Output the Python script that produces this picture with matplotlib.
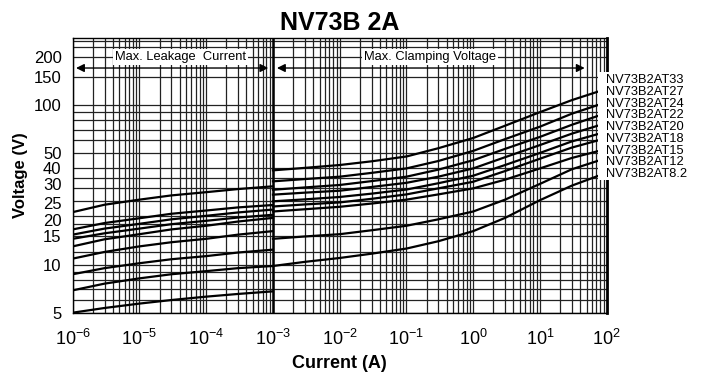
import numpy as np
import matplotlib
matplotlib.use("Agg")
import matplotlib.pyplot as plt
import matplotlib.transforms as mtransforms
from matplotlib.patches import Rectangle

plt.rcParams['font.family'] = ['Liberation Sans', 'DejaVu Sans']
plt.rcParams['mathtext.fontset'] = 'custom'
plt.rcParams['mathtext.rm'] = 'Liberation Sans'
plt.rcParams['mathtext.default'] = 'regular'

# device names, top curve first
devices = ['NV73B2AT33', 'NV73B2AT27', 'NV73B2AT24', 'NV73B2AT22', 'NV73B2AT20',
           'NV73B2AT18', 'NV73B2AT15', 'NV73B2AT12', 'NV73B2AT8.2']

# leakage region (A)
leak_i = [1e-6, 3e-6, 1e-5, 3e-5, 1e-4, 3e-4, 1e-3]
leak_v = [
    [21.3, 23.7, 25.5, 27.1, 28.4, 29.7, 30.9],
    [16.6, 18.2, 19.5, 20.8, 21.8, 22.8, 23.6],
    [15.4, 16.8, 18.0, 19.2, 20.2, 21.2, 22.1],
    [14.5, 15.7, 16.8, 17.9, 18.8, 19.7, 20.5],
    [13.0, 14.4, 15.5, 16.6, 17.5, 18.6, 19.6],
    [10.9, 12.0, 13.0, 13.8, 14.5, 15.4, 16.2],
    [8.7, 9.5, 10.2, 10.8, 11.3, 11.9, 12.4],
    [6.9, 7.6, 8.2, 8.7, 9.1, 9.5, 9.8],
    [5.0, 5.35, 5.7, 6.0, 6.3, 6.55, 6.8],
]

# clamping region (A)
clamp_i = [1e-3, 3e-3, 1e-2, 3e-2, 1e-1, 3e-1, 1e0, 3e0, 1e1, 3e1, 1e2]
clamp_v = [
    [38.9, 40.3, 42.0, 44.3, 47.5, 53.5, 62.0, 74.0, 90.0, 107.0, 126.0],
    [33.2, 34.3, 35.5, 37.5, 40.0, 44.5, 51.5, 61.0, 73.0, 88.0, 104.0],
    [29.4, 30.4, 31.5, 33.3, 35.5, 39.3, 45.0, 53.0, 63.0, 75.0, 89.0],
    [27.4, 28.2, 29.0, 30.6, 32.5, 35.5, 40.0, 47.0, 56.0, 66.0, 77.0],
    [24.9, 25.6, 26.5, 27.8, 29.5, 32.3, 36.0, 42.0, 50.0, 59.0, 68.0],
    [23.1, 23.8, 24.5, 25.8, 27.5, 30.0, 33.0, 38.5, 46.0, 54.0, 62.0],
    [21.5, 22.2, 23.0, 24.1, 25.5, 27.5, 30.0, 34.0, 40.0, 46.5, 53.0],
    [14.5, 15.0, 15.5, 16.4, 17.5, 19.2, 21.5, 25.5, 32.0, 39.5, 46.5],
    [9.8, 10.4, 11.0, 11.7, 12.6, 14.0, 16.2, 19.6, 25.3, 31.2, 37.6],
]

y_ticks = [5, 10, 15, 20, 25, 30, 40, 50, 100, 150, 200]
y_grid = [5, 6, 7, 8, 9, 10, 12, 15, 18, 20, 25, 30, 35, 40, 50, 60, 70, 80, 90,
          100, 150, 200, 230, 250]
x_ticks = [1e-6, 1e-5, 1e-4, 1e-3, 1e-2, 1e-1, 1e0, 1e1, 1e2]
x_labels = ['$10^{-6}$', '$10^{-5}$', '$10^{-4}$', '$10^{-3}$', '$10^{-2}$',
            '$10^{-1}$', '$10^{0}$', '$10^{1}$', '$10^{2}$']

fig = plt.figure(figsize=(7.01, 3.77), dpi=100)
ax = fig.add_axes([0.1037, 0.1706, 0.7618, 0.7286])
ax.set_xscale('log')
ax.set_yscale('log')
ax.set_xlim(1e-6, 1e2)
ax.set_ylim(5, 262)

# grid: log minor verticals and hand-picked horizontals
gc = '#222222'
for d in range(-6, 2):
    for m in range(1, 10):
        ax.axvline(m * 10.0 ** d, color=gc, lw=0.9, zorder=1)
for g in y_grid:
    ax.axhline(g, color=gc, lw=0.9, zorder=1)
ax.axvline(1e-3, color='k', lw=1.8, zorder=1)

for lv, cv in zip(leak_v, clamp_v):
    ax.plot(leak_i, lv, color='k', lw=1.6, zorder=3, solid_joinstyle='round')
    ax.plot(clamp_i, cv, color='k', lw=1.6, zorder=3, solid_joinstyle='round')

ax.set_xticks(x_ticks)
ax.set_xticklabels(x_labels)
ax.set_yticks(y_ticks)
ax.set_yticklabels([str(t) for t in y_ticks])
ax.minorticks_off()
ax.tick_params(length=0, labelsize=12)
ax.tick_params(axis='x', pad=12, labelsize=13)
ax.tick_params(axis='y', pad=8)
for s in ax.spines.values():
    s.set_linewidth(1.0)
ax.spines['right'].set_linewidth(2.0)

# the crowded labels sit a little apart, as in the datasheet
nudge = {'30': 3, '25': -1.5, '20': -2.5}
for lab in ax.get_yticklabels():
    dy = nudge.get(lab.get_text(), 0)
    if dy:
        lab.set_transform(lab.get_transform() +
                          mtransforms.ScaledTranslation(0, dy / 72, fig.dpi_scale_trans))

# annotations
bb = dict(facecolor='white', edgecolor='none', pad=1.5)
ax.text(10 ** -4.39, 200, 'Max. Leakage  Current', ha='center', va='center',
        fontsize=9.3, bbox=bb, zorder=5)
ax.text(10 ** -0.645, 200, 'Max. Clamping Voltage', ha='center', va='center',
        fontsize=9.3, bbox=bb, zorder=5)
ap = dict(arrowstyle='<|-|>', color='k', lw=1.0, mutation_scale=12, shrinkA=0, shrinkB=0)
ax.annotate('', xy=(10 ** -3.07, 170), xytext=(10 ** -5.95, 170), arrowprops=ap, zorder=5)
ax.annotate('', xy=(10 ** 1.67, 170), xytext=(10 ** -2.94, 170), arrowprops=ap, zorder=5)

# device labels on the right, white box hides line ends
ax.add_patch(Rectangle((0.984, 0.483), 0.2, 0.393, transform=ax.transAxes,
                       facecolor='white', edgecolor='none', clip_on=False, zorder=6))
for k, name in enumerate(devices):
    ax.text(0.9985, 0.847 - k * 0.0428, name, transform=ax.transAxes, ha='left',
            va='center', fontsize=9.3, zorder=7)

ax.set_title('NV73B 2A', fontsize=18, fontweight='bold', pad=6)
ax.set_xlabel('Current (A)', fontsize=13, fontweight='bold', labelpad=4)
ax.set_ylabel('Voltage (V)', fontsize=12, fontweight='bold', labelpad=4)

fig.savefig('out.png', dpi=100)
